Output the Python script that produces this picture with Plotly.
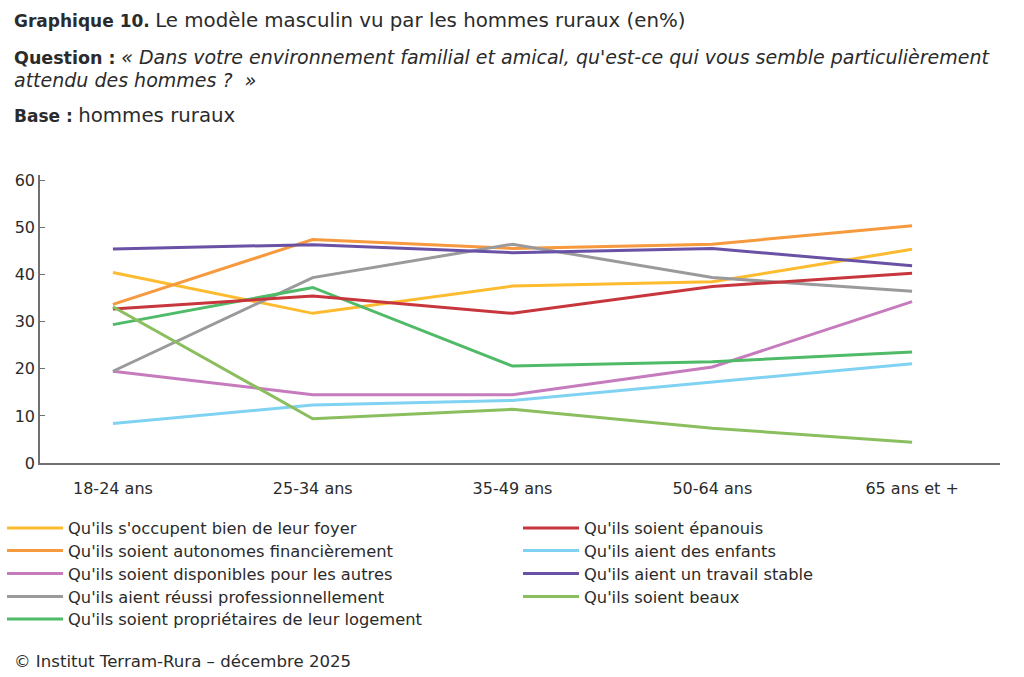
import plotly.graph_objects as go

categories = ["18-24 ans", "25-34 ans", "35-49 ans", "50-64 ans", "65 ans et +"]

foyer = [40.5, 31.8, 37.6, 38.5, 45.4]
epanouis = [32.7, 35.5, 31.8, 37.5, 40.3]
autonomes = [33.7, 47.5, 45.6, 46.5, 50.4]
enfants = [8.4, 12.3, 13.3, 17.2, 21.1]
disponibles = [19.5, 14.5, 14.5, 20.4, 34.3]
travail = [45.5, 46.4, 44.7, 45.6, 41.9]
reussi = [19.5, 39.4, 46.5, 39.4, 36.5]
beaux = [33.2, 9.4, 11.4, 7.4, 4.4]
proprietaires = [29.4, 37.3, 20.6, 21.5, 23.6]

# (label, values, colour, legend column, legend row)
series = [
    ("Qu'ils s'occupent bien de leur foyer", foyer, "#FDBB2F", 0, 0),
    ("Qu'ils soient autonomes financièrement", autonomes, "#F7993D", 0, 1),
    ("Qu'ils soient disponibles pour les autres", disponibles, "#C67BBD", 0, 2),
    ("Qu'ils aient réussi professionnellement", reussi, "#9A9A9C", 0, 3),
    ("Qu'ils soient propriétaires de leur logement", proprietaires, "#4FBA68", 0, 4),
    ("Qu'ils soient épanouis", epanouis, "#C8363D", 1, 0),
    ("Qu'ils aient des enfants", enfants, "#80D2F3", 1, 1),
    ("Qu'ils aient un travail stable", travail, "#6951A6", 1, 2),
    ("Qu'ils soient beaux", beaux, "#8BBE5E", 1, 3),
]

FONT = "DejaVu Sans"
TXT = "#2b2b2b"
W, H = 1024, 677
ML, MR, MT, MB = 40, 24, 175, 214
COL_X = [2, 518]
ROW_Y = [528, 550.5, 573.5, 596.5, 619]

fig = go.Figure()
legends = {}
for i, (name, vals, col, c, r) in enumerate(series):
    lg = "legend" if i == 0 else f"legend{i + 1}"
    fig.add_trace(go.Scatter(x=categories, y=vals, mode="lines", name=name,
                             legend=lg, line=dict(color=col, width=3)))
    legends[lg] = dict(orientation="v", xref="container", yref="container",
                       xanchor="left", yanchor="top",
                       x=COL_X[c] / W, y=1 - (ROW_Y[r] - 17) / H,
                       itemwidth=56,
                       font=dict(size=16.3, family=FONT, color=TXT),
                       bgcolor="rgba(0,0,0,0)")

fig.update_layout(
    width=W, height=H,
    paper_bgcolor="white", plot_bgcolor="white",
    margin=dict(l=ML, r=MR, t=MT, b=MB, autoexpand=False),
    font=dict(family=FONT, color=TXT, size=15),
    showlegend=True,
    xaxis=dict(type="category", range=[-0.365, 4.44], showgrid=False,
               showline=True, linecolor="#707070", linewidth=1.5, automargin=False,
               tickangle=0,
               ticks="", ticklabelstandoff=10, tickfont=dict(size=16)),
    yaxis=dict(range=[0, 61.2], tickvals=[0, 10, 20, 30, 40, 50, 60],
               showgrid=False, zeroline=False, showline=True, automargin=False,
               linecolor="#707070", linewidth=1.5, ticks="inside", ticklen=5,
               tickcolor="#707070", tickfont=dict(size=16)),
    **legends,
)

def sized(t, s):
    return f'<span style="font-size:{s}px">{t}</span>'

annots = [
    (12, 20, "<b>Graphique 10.</b> " + sized("Le modèle masculin vu par les hommes ruraux (en%)", 19.8), 17),
    (12, 57, "<b>Question :</b> " + sized("<i>« Dans votre environnement familial et amical, qu'est-ce qui vous semble particulièrement</i>", 19), 17.5),
    (12, 80, sized("<i>attendu des hommes ?  »</i>", 19), 17.5),
    (12, 115, "<b>Base :</b> " + sized("hommes ruraux", 19.8), 17),
    (12, 661, "© Institut Terram-Rura – décembre 2025", 16.6),
]
for x, y, t, s in annots:
    fig.add_annotation(xref="paper", yref="paper",
                       x=(x - ML) / (W - ML - MR), y=(H - MB - y) / (H - MT - MB),
                       xanchor="left", yanchor="middle", text=t, showarrow=False,
                       font=dict(size=s, family=FONT, color=TXT))

fig.write_html("out.html", config={"displayModeBar": False},
               post_script="document.body.style.margin='0';")
